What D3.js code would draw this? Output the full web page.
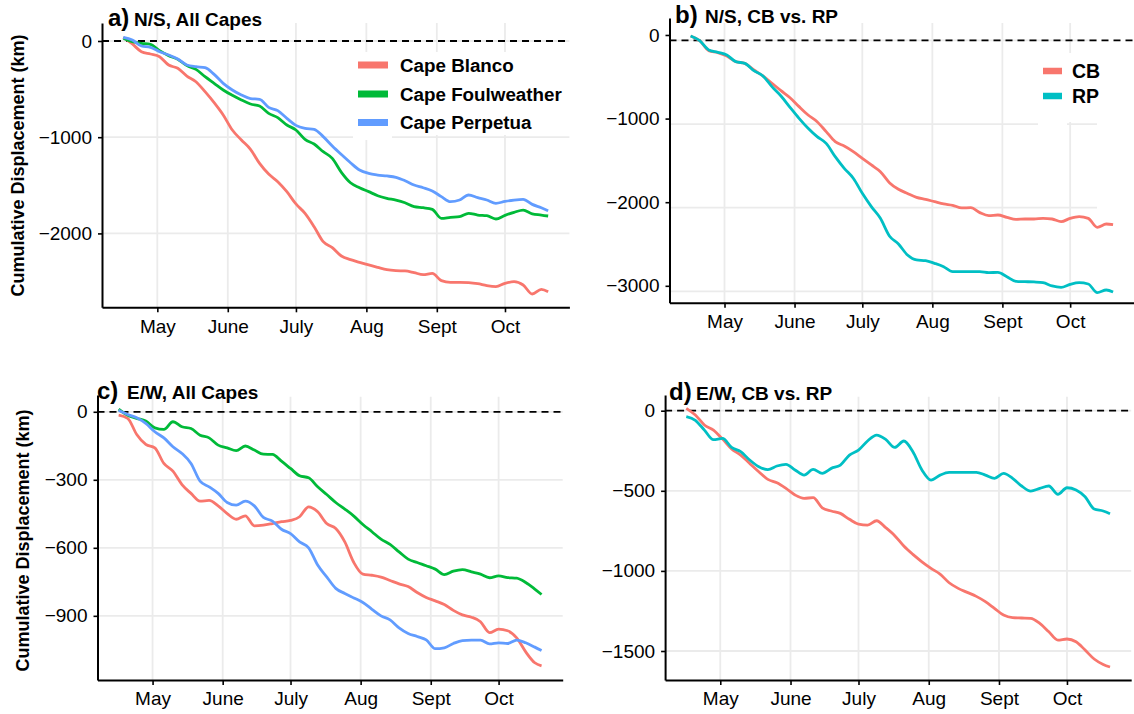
<!DOCTYPE html>
<html>
<head>
<meta charset="utf-8">
<script src="https://cdn.jsdelivr.net/npm/d3@7"></script>
<style>
  body { margin: 0; background: #fff; }
  svg { display: block; font-family: "Liberation Sans", Arial, Helvetica, sans-serif; }
</style>
</head>
<body>
<svg id="chart" width="1134" height="714"></svg>
<script>
// sample dates (every 4 days, Apr 16 - Oct 20)
const dates = ["04-16","04-20","04-24","04-28","05-02","05-06","05-10","05-14","05-18","05-22",
  "05-26","05-30","06-03","06-07","06-11","06-15","06-19","06-23","06-27","07-01",
  "07-05","07-09","07-13","07-17","07-21","07-25","07-29","08-02","08-06","08-10",
  "08-14","08-18","08-22","08-26","08-30","09-03","09-07","09-11","09-15","09-19",
  "09-23","09-27","10-01","10-05","10-09","10-13","10-17","10-20"];

const monthTicks = ["05-01","06-01","07-01","08-01","09-01","10-01"];
const monthLabels = ["May","June","July","Aug","Sept","Oct"];

const capeNames = ["Cape Blanco","Cape Foulweather","Cape Perpetua"];
const pairNames = ["CB","RP"];

// N/S cumulative displacement (km)
const nsBlanco = [38,-31,-111,-135,-163,-250,-284,-364,-423,-527,-641,-769,-925,-1029,-1126,-1272,
  -1383,-1462,-1566,-1694,-1791,-1930,-2086,-2148,-2235,-2273,-2301,-2328,-2353,-2377,-2387,-2390,
  -2408,-2429,-2415,-2491,-2509,-2509,-2512,-2523,-2543,-2553,-2519,-2502,-2536,-2630,-2581,-2606];
const nsFoulweather = [28,-7,-24,-35,-100,-152,-191,-256,-295,-371,-440,-509,-565,-613,-655,-676,
  -752,-797,-873,-925,-1022,-1071,-1150,-1220,-1365,-1473,-1525,-1566,-1608,-1635,-1653,-1681,
  -1722,-1733,-1750,-1843,-1833,-1826,-1791,-1809,-1816,-1850,-1812,-1781,-1757,-1798,-1809,-1819];
const nsPerpetua = [38,10,-52,-66,-111,-146,-187,-249,-267,-277,-347,-440,-509,-561,-599,-606,
  -690,-724,-804,-877,-908,-918,-994,-1091,-1180,-1265,-1341,-1376,-1393,-1403,-1417,-1452,
  -1497,-1525,-1559,-1618,-1670,-1653,-1601,-1629,-1653,-1687,-1667,-1653,-1646,-1698,-1733,-1764];
const nsCB = [-12,-68,-187,-211,-251,-319,-339,-419,-490,-578,-666,-750,-857,-957,-1037,-1156,
  -1276,-1328,-1395,-1475,-1555,-1635,-1766,-1846,-1896,-1942,-1966,-1994,-2021,-2037,-2069,-2065,
  -2125,-2161,-2153,-2181,-2205,-2201,-2201,-2193,-2201,-2233,-2193,-2173,-2193,-2300,-2261,-2269];
const nsRP = [-12,-68,-179,-207,-239,-319,-339,-427,-490,-618,-730,-865,-997,-1116,-1216,-1296,
  -1455,-1595,-1714,-1894,-2053,-2193,-2404,-2500,-2631,-2691,-2699,-2731,-2771,-2831,-2831,-2831,
  -2831,-2843,-2839,-2891,-2946,-2950,-2954,-2962,-3002,-3018,-2982,-2962,-2978,-3082,-3050,-3074];

// E/W cumulative displacement (km)
const ewBlanco = [-15,-29,-100,-144,-159,-228,-262,-321,-360,-394,-391,-415,-449,-474,-459,-503,
  -500,-493,-485,-479,-463,-419,-441,-493,-515,-574,-665,-716,-721,-729,-744,-759,
  -771,-797,-819,-834,-850,-876,-896,-906,-926,-974,-959,-966,-997,-1059,-1107,-1121];
const ewFoulweather = [12,-15,-29,-41,-71,-78,-44,-66,-74,-103,-115,-147,-159,-171,-151,-169,
  -187,-188,-218,-250,-282,-291,-331,-365,-400,-429,-460,-497,-529,-562,-585,-618,
  -650,-665,-679,-694,-718,-703,-696,-706,-716,-732,-724,-731,-734,-753,-782,-806];
const ewPerpetua = [7,-12,-26,-51,-88,-115,-154,-184,-228,-306,-331,-360,-400,-412,-394,-415,
  -466,-482,-518,-537,-574,-600,-676,-728,-779,-801,-821,-841,-871,-900,-918,-953,
  -978,-991,-1006,-1045,-1041,-1022,-1009,-1007,-1007,-1024,-1019,-1022,-1007,-1019,-1038,-1053];
const ewCB = [15,-27,-89,-121,-177,-239,-277,-329,-381,-429,-450,-485,-526,-547,-543,-606,
  -626,-641,-678,-708,-714,-687,-730,-780,-845,-897,-943,-984,-1020,-1074,-1109,-1134,
  -1159,-1192,-1234,-1276,-1292,-1294,-1296,-1328,-1380,-1432,-1425,-1442,-1494,-1550,-1584,-1600];
const ewRP = [-37,-60,-121,-181,-173,-229,-256,-308,-350,-368,-345,-335,-370,-402,-366,-391,
  -360,-339,-277,-246,-189,-152,-179,-229,-189,-256,-370,-433,-402,-385,-385,-385,
  -385,-402,-422,-391,-422,-470,-502,-485,-470,-522,-481,-495,-537,-614,-626,-643];

const yTicksA = [0,-1000,-2000];
const yTicksB = [0,-1000,-2000,-3000];
const yTicksC = [0,-300,-600,-900];
const yTicksD = [0,-500,-1000,-1500];

const capeColors = ["#F8766D","#00BA38","#619CFF"];
const pairColors = ["#F8766D","#00BFC4"];

const parseDay = d3.timeParse("%Y-%m-%d");
const days = dates.map(d => parseDay("2015-" + d));
const tickDays = monthTicks.map(d => parseDay("2015-" + d));

// panel layout
const panels = [
  { tag: "a)", title: "N/S, All Capes", series: [nsBlanco, nsFoulweather, nsPerpetua], colors: capeColors,
    names: capeNames, xr: [102, 569.4], yd: [187, -2768], yr: [23, 307.3], yTicks: yTicksA,
    gridTop: 23, gridOff: 0, gridRight: 569.4, ylab: { x: 24, y: 165.5 },
    tagX: 108, titleX: 134, titleY: 26,
    legend: { keyX: 358, keyW: 30, keyH: 7, rows: [65, 94, 122.5], textX: 400, size: 18.8,
      keyBg: [353, 52, 39, 88], textBg: [392, 52, 178, 83] } },
  { tag: "b)", title: "N/S, CB vs. RP", series: [nsCB, nsRP], colors: pairColors,
    names: pairNames, xr: [669.5, 1134.2], yd: [203, -3202], yr: [18, 302.7], yTicks: yTicksB,
    gridTop: 23, gridOff: 5.5, gridRight: 1097, ylab: null,
    tagX: 675, titleX: 705, titleY: 23,
    legend: { keyX: 1043, keyW: 19, keyH: 6.5, rows: [71, 96], textX: 1072, size: 19.5,
      keyBg: [1038, 53, 29, 76], textBg: [1067, 53, 45, 69] } },
  { tag: "c)", title: "E/W, All Capes", series: [ewBlanco, ewFoulweather, ewPerpetua], colors: capeColors,
    names: null, xr: [97.5, 562.7], yd: [74, -1183], yr: [395, 680], yTicks: yTicksC,
    gridTop: 396.7, gridOff: 0, gridRight: 562.7, ylab: { x: 29, y: 540.5 },
    tagX: 97, titleX: 127, titleY: 399, legend: null },
  { tag: "d)", title: "E/W, CB vs. RP", series: [ewCB, ewRP], colors: pairColors,
    names: null, xr: [665.1, 1131.2], yd: [98, -1681], yr: [395, 680], yTicks: yTicksD,
    gridTop: 396.7, gridOff: 0, gridRight: 1131.2, ylab: null,
    tagX: 669, titleX: 696, titleY: 400, legend: null }
];

const svg = d3.select("#chart");
const grid = "#ebebeb";

panels.forEach(p => {
  const pad = (days[days.length - 1] - days[0]) * 0.05;
  const x = d3.scaleTime()
    .domain([new Date(+days[0] - pad), new Date(+days[days.length - 1] + pad)])
    .range(p.xr);
  const y = d3.scaleLinear().domain(p.yd).range(p.yr);
  const g = svg.append("g");

  // grid
  g.selectAll(".vg").data(tickDays).enter().append("line")
    .attr("x1", d => x(d)).attr("x2", d => x(d))
    .attr("y1", p.gridTop).attr("y2", p.yr[1])
    .attr("stroke", grid).attr("stroke-width", 1.8);
  g.selectAll(".hg").data(p.yTicks).enter().append("line")
    .attr("x1", p.xr[0]).attr("x2", p.gridRight)
    .attr("y1", d => y(d) + p.gridOff).attr("y2", d => y(d) + p.gridOff)
    .attr("stroke", grid).attr("stroke-width", 1.8);

  // legend background hides grid
  if (p.legend) {
    [p.legend.keyBg, p.legend.textBg].forEach(r => {
      g.append("rect").attr("x", r[0]).attr("y", r[1]).attr("width", r[2]).attr("height", r[3])
        .attr("fill", "#fff");
    });
  }

  // zero line
  g.append("line")
    .attr("x1", p.xr[0]).attr("x2", p.xr[1])
    .attr("y1", y(0) + p.gridOff).attr("y2", y(0) + p.gridOff)
    .attr("stroke", "#000").attr("stroke-width", 1.8)
    .attr("stroke-dasharray", "7,5");

  // lines
  const line = d3.line()
    .x((d, i) => x(days[i]))
    .y(d => y(d))
    .curve(d3.curveMonotoneX);
  p.series.forEach((s, k) => {
    g.append("path").datum(s)
      .attr("d", line)
      .attr("fill", "none")
      .attr("stroke", p.colors[k])
      .attr("stroke-width", 2.8)
      .attr("stroke-linejoin", "round");
  });

  // axes
  const xAxis = g.append("g").attr("transform", `translate(0,${p.yr[1]})`)
    .call(d3.axisBottom(x).tickValues(tickDays)
      .tickFormat((d, i) => monthLabels[i]).tickSize(5).tickPadding(7).tickSizeOuter(0));
  const yAxis = g.append("g").attr("transform", `translate(${p.xr[0]},0)`)
    .call(d3.axisLeft(y).tickValues(p.yTicks).tickFormat(d3.format("d"))
      .tickSize(4).tickPadding(6).tickSizeOuter(0));
  [xAxis, yAxis].forEach(a => {
    a.select(".domain").attr("stroke", "#000").attr("stroke-width", 2);
    a.selectAll(".tick line").attr("stroke", "#000").attr("stroke-width", 1.6);
    a.selectAll(".tick text").attr("fill", "#000")
      .style("font-size", "19px").style("font-family", "Liberation Sans, Arial, sans-serif");
  });

  // titles
  g.append("text").attr("x", p.tagX).attr("y", p.titleY)
    .style("font-size", "24px").style("font-weight", "bold").text(p.tag);
  g.append("text").attr("x", p.titleX).attr("y", p.titleY)
    .style("font-size", "19px").style("font-weight", "bold").text(p.title);

  if (p.ylab) {
    g.append("text")
      .attr("transform", `translate(${p.ylab.x},${p.ylab.y}) rotate(-90)`)
      .attr("text-anchor", "middle")
      .style("font-size", "18px").style("font-weight", "bold")
      .text("Cumulative Displacement (km)");
  }

  // legend
  if (p.legend) {
    const L = p.legend;
    p.names.forEach((n, k) => {
      g.append("rect")
        .attr("x", L.keyX).attr("y", L.rows[k] - L.keyH / 2)
        .attr("width", L.keyW).attr("height", L.keyH)
        .attr("fill", p.colors[k]);
      g.append("text")
        .attr("x", L.textX).attr("y", L.rows[k])
        .attr("dy", "0.36em")
        .style("font-size", L.size + "px").style("font-weight", "bold")
        .text(n);
    });
  }
});
</script>
</body>
</html>
